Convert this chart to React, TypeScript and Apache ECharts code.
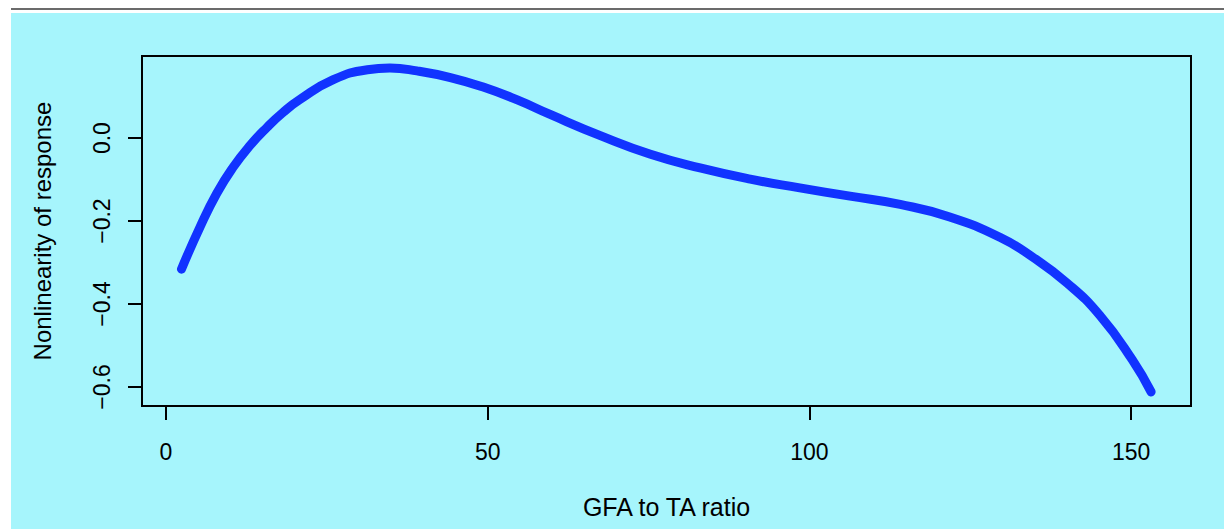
import React, { useEffect, useRef } from "react";
import * as echarts from "echarts";

// GFA to TA ratio (x) and nonlinearity of response (y)
const gfaRatio = [
  2.4, 5.3, 7.9, 10.4, 13.1, 15.7, 18.2, 20.8, 26.0, 31.3, 34.8, 39.0, 44.2,
  49.3, 54.6, 59.7, 67.5, 75.3, 83.0, 90.8, 98.5, 106.3, 114.1, 121.8, 129.6,
  134.7, 140.0, 145.1, 150.2, 153.1,
];
const response = [
  -0.316, -0.214, -0.133, -0.071, -0.017, 0.026, 0.062, 0.093, 0.141, 0.165,
  0.169, 0.162, 0.146, 0.123, 0.092, 0.057, 0.006, -0.039, -0.072, -0.099,
  -0.12, -0.14, -0.16, -0.19, -0.239, -0.287, -0.349, -0.427, -0.535, -0.612,
];
const xTicks = [0, 50, 100, 150];
const yTicks = [-0.6, -0.4, -0.2, 0.0];
const xTitle = "GFA to TA ratio";
const yTitle = "Nonlinearity of response";

const W = 1224;
const H = 529;
const FONT = "'Liberation Sans', Arial, Helvetica, sans-serif";

export default function App() {
  const ref = useRef<HTMLDivElement>(null);

  useEffect(() => {
    document.body.style.margin = "0";
    const chart = echarts.init(ref.current!, null, { renderer: "svg" });
    const data = gfaRatio.map((x, i) => [x, response[i]]);
    const fmtY = (v: number) => {
      const s = Math.abs(v).toFixed(1);
      return v < -1e-9 ? "\u2212" + s : s;
    };
    chart.setOption({
      animation: false,
      backgroundColor: "#ffffff",
      textStyle: { fontFamily: FONT },
      graphic: [
        {
          type: "rect",
          z: -10,
          silent: true,
          shape: { x: 11, y: 8, width: W - 11, height: 2 },
          style: { fill: "#6b6b6b" },
        },
        {
          type: "rect",
          z: -10,
          silent: true,
          shape: { x: 11, y: 13, width: W - 11, height: H - 13 },
          style: { fill: "#a6f5fc" },
        },
      ],
      grid: {
        left: 142,
        right: W - 1191,
        top: 56,
        bottom: H - 406,
        show: true,
        borderColor: "#000000",
        borderWidth: 2,
        backgroundColor: "transparent",
        containLabel: false,
      },
      xAxis: {
        type: "value",
        min: -3.73,
        max: 159.3,
        name: xTitle,
        nameLocation: "middle",
        nameGap: 88,
        nameTextStyle: { fontFamily: FONT, fontSize: 25, color: "#000" },
        splitLine: { show: false },
        axisLine: { show: false, onZero: false },
        axisTick: {
          show: true,
          inside: false,
          length: 14,
          customValues: xTicks,
          lineStyle: { color: "#000", width: 2 },
        },
        axisLabel: {
          show: true,
          customValues: xTicks,
          margin: 34,
          fontFamily: FONT,
          fontSize: 23,
          color: "#000",
          formatter: (v: number) => String(v),
        },
      },
      yAxis: {
        type: "value",
        min: -0.646,
        max: 0.198,
        name: yTitle,
        nameLocation: "middle",
        nameGap: 88,
        nameTextStyle: { fontFamily: FONT, fontSize: 24, color: "#000" },
        splitLine: { show: false },
        axisLine: { show: false, onZero: false },
        axisTick: {
          show: true,
          inside: false,
          length: 14,
          customValues: yTicks,
          lineStyle: { color: "#000", width: 2 },
        },
        axisLabel: {
          show: true,
          customValues: yTicks,
          rotate: 90,
          margin: 29,
          fontFamily: FONT,
          fontSize: 23,
          color: "#000",
          formatter: fmtY,
        },
      },
      series: [
        {
          type: "line",
          data,
          smooth: 0.5,
          showSymbol: false,
          symbol: "none",
          clip: true,
          lineStyle: { color: "#1133ff", width: 9, cap: "round", join: "round" },
          z: 3,
        },
      ],
    });
    return () => chart.dispose();
  }, []);

  return <div ref={ref} style={{ width: W, height: H }} />;
}
